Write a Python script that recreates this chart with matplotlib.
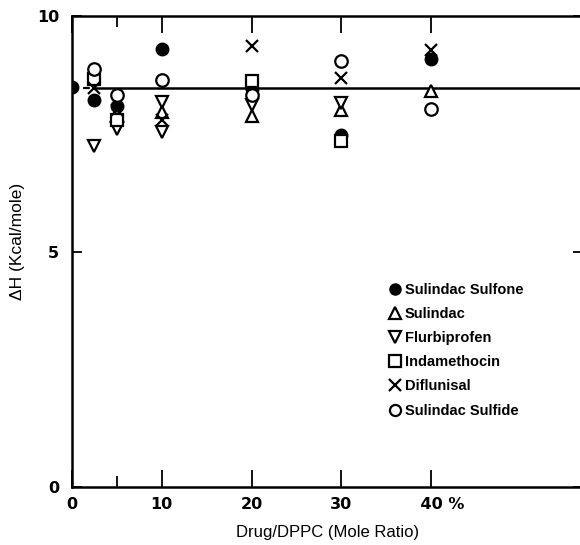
import matplotlib
matplotlib.use('Agg')
import matplotlib.pyplot as plt

plt.rcParams['font.family'] = ['Liberation Sans', 'DejaVu Sans']
plt.rcParams['font.weight'] = 'bold'

# values (Drug/DPPC mole ratio %, dH kcal/mole)
sulfone_x = [0, 2.5, 5, 10, 20, 30, 40]
sulfone_y = [8.5, 8.22, 8.1, 9.3, 8.46, 7.48, 9.1]

sulindac_x = [5, 10, 20, 30, 40]
sulindac_y = [7.9, 7.97, 7.88, 8.02, 8.41]

flurbi_x = [2.5, 5, 10, 10, 20, 30]
flurbi_y = [7.25, 7.6, 8.18, 7.55, 8.12, 8.17]

indo_x = [2.5, 5, 20, 30]
indo_y = [8.68, 7.8, 8.63, 7.35]

diflu_x = [2.5, 5, 10, 20, 30, 40]
diflu_y = [8.47, 8.02, 7.8, 9.38, 8.7, 9.28]

sulfide_x = [2.5, 5, 10, 20, 30, 40]
sulfide_y = [8.88, 8.34, 8.64, 8.32, 9.05, 8.04]

control_dh = 8.47

xticks = [0, 10, 20, 30, 40]
xticklabels = ['0', '10', '20', '30', '    40 %']
yticks = [0, 5, 10]

##########################################

fig = plt.figure(figsize=(5.8, 5.45), dpi=100)
ax = fig.add_axes([0.124, 0.106, 0.881, 0.864])

ax.plot([0, 2.3], [control_dh, control_dh], '--k', lw=1.6, dashes=(3, 2))
ax.plot([2.3, 60], [control_dh, control_dh], '-k', lw=1.8)

ms = 9
mew = 1.6
ax.plot(sulfone_x, sulfone_y, 'o', color='k', ms=ms, label='Sulindac Sulfone', zorder=3)
ax.plot(sulindac_x, sulindac_y, '^', mfc='white', mec='k', mew=mew, ms=ms, label='Sulindac', zorder=3)
ax.plot(flurbi_x, flurbi_y, 'v', mfc='white', mec='k', mew=mew, ms=ms, label='Flurbiprofen', zorder=3)
ax.plot(indo_x, indo_y, 's', mfc='white', mec='k', mew=mew, ms=ms - 1, label='Indamethocin', zorder=3)
ax.plot(diflu_x, diflu_y, 'x', color='k', mew=mew, ms=ms, label='Diflunisal', zorder=3)
ax.plot(sulfide_x, sulfide_y, 'o', mfc='white', mec='k', mew=mew, ms=ms, label='Sulindac Sulfide', zorder=3)

ax.set_xlim(0, 56.9)
ax.set_ylim(0, 10)

for s in ax.spines.values():
    s.set_linewidth(1.8)

ax.set_xticks(xticks)
ax.set_xticklabels(xticklabels)
ax.set_xticks([5], minor=True)
ax.set_yticks(yticks)
ax.tick_params(axis='x', which='major', direction='in', length=12, width=1.3,
               top=True, labelsize=11.5, pad=7)
ax.tick_params(axis='x', which='minor', direction='in', length=8, width=1.3, top=True)
ax.tick_params(axis='y', which='major', direction='in', length=7, width=1.3,
               right=True, labelsize=11.5, pad=9)
for label in ax.get_xticklabels() + ax.get_yticklabels():
    label.set_family('DejaVu Sans')

ax.set_xlabel('Drug/DPPC (Mole Ratio)', fontsize=12)
ax.set_ylabel('ΔH (Kcal/mole)', fontsize=12.5)
ax.xaxis.set_label_coords(0.50, -0.08)
ax.yaxis.set_label_coords(-0.092, 0.522)

leg = ax.legend(loc='upper left', bbox_to_anchor=(0.6, 0.45), frameon=False,
                fontsize=10.5, handletextpad=0.1, labelspacing=0.7,
                handlelength=1.2, borderpad=0)
for h in leg.legend_handles:
    h.set_markersize(8)

plt.savefig('out.png', dpi=100)
plt.close('all')
